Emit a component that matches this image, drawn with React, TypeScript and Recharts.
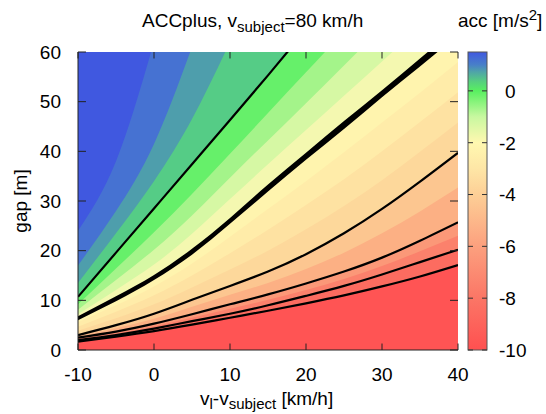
import {
  ComposedChart,
  Area,
  Bar,
  Line,
  XAxis,
  YAxis,
  CartesianGrid,
  ReferenceLine,
} from "recharts";

const FONT = '"Liberation Sans", Arial, sans-serif';

// relative speed v_l - v_subject [km/h]
const dv = [-10, -5, 0, 5, 10, 15, 20, 25, 30, 35, 40];
const xTicks = [-10, 0, 10, 20, 30, 40];
const yTicks = [0, 10, 20, 30, 40, 50, 60];
const cbTicks = [0, -2, -4, -6, -8, -10];

// gap [m] where acc reaches a given level
const gapP13 = [24, 38, 62, 88, 114, 140, 166, 192, 218, 244, 270];
const gapP07 = [17, 28, 41.5, 61, 82, 103, 124, 145, 166, 187, 208];
const gapP035 = [13.5, 23.5, 34, 46.5, 62, 78, 94, 110, 126, 142, 158];
const gap0 = [10.7, 19.6, 28.5, 37.4, 46.3, 55.3, 64.5, 74, 84, 94, 104];
const gapM05 = [9.2, 16.4, 23.7, 31.4, 39.5, 47.7, 55.9, 64.2, 72.9, 81.5, 90.1];
const gapM1 = [8.1, 14.1, 20.2, 27.1, 34.7, 42.2, 49.7, 57.3, 64.9, 72.6, 80.5];
const gapM15 = [7.2, 12.1, 17.2, 23.4, 30.4, 37.4, 44.3, 51.2, 58.1, 65.0, 71.7];
const gapM2 = [6.4, 10.3, 14.6, 19.8, 26.0, 32.6, 39.0, 45.3, 51.6, 57.9, 64.2];
const gapM25 = [5.6, 9.0, 12.8, 17.4, 22.8, 28.4, 34.0, 39.8, 45.8, 51.8, 58.0];
const gapM3 = [4.7, 7.7, 11.0, 15.0, 19.5, 24.2, 29.2, 34.4, 40.0, 45.9, 51.9];
const gapM35 = [3.9, 6.4, 9.2, 12.6, 16.2, 20.0, 24.3, 29.0, 34.2, 39.9, 45.8];
const gapM4 = [3.0, 5.0, 7.3, 10.1, 12.9, 15.8, 19.3, 23.5, 28.4, 33.9, 39.7];
const gapM5 = [2.8, 4.4, 6.3, 8.7, 11.1, 13.5, 16.3, 19.6, 23.5, 27.9, 32.7];
const gapM6 = [2.5, 3.7, 5.3, 7.2, 9.2, 11.2, 13.4, 15.8, 18.6, 22.0, 25.7];
const gapM7 = [2.3, 3.4, 4.8, 6.5, 8.3, 10.1, 12.1, 14.3, 16.9, 19.9, 23.0];
const gapM8 = [2.0, 3.0, 4.3, 5.8, 7.3, 9.0, 10.9, 12.9, 15.2, 17.7, 20.2];
const gapM9 = [1.7, 2.7, 3.8, 5.1, 6.5, 7.9, 9.4, 11.0, 12.8, 14.8, 17.1];

// the thick contour is drawn as a band
const thickLo = [6.0, 9.8, 14.1, 19.2, 25.4, 31.9, 38.3, 44.5, 50.9, 57.1, 63.4];
const thickHi = [6.8, 10.8, 15.1, 20.4, 26.6, 33.3, 39.7, 46.1, 52.3, 58.7, 65.0];

// colour bar
const cbMin = -10;
const cbMax = 1.5;
const cbLevels = [1.5, 1.0, 0.7, 0.35, 0, -1, -2, -3, -4, -6, -8, -10];
const cbColors = [
  "#4058e0", "#4880c8", "#50a8a4", "#56d07e", "#58f060", "#c8f8a0",
  "#fff8b0", "#fee6a6", "#fdcf96", "#fca07e", "#fb7666", "#ff5050",
];
const cbRange = [{ name: "acc", range: [cbMin, cbMax] }];

const data = dv.map((v, i) => ({
  v,
  p13: gapP13[i],
  p07: gapP07[i],
  p035: gapP035[i],
  g0: gap0[i],
  m05: gapM05[i],
  m1: gapM1[i],
  m15: gapM15[i],
  m2: gapM2[i],
  m25: gapM25[i],
  m3: gapM3[i],
  m35: gapM35[i],
  m4: gapM4[i],
  m5: gapM5[i],
  m6: gapM6[i],
  m7: gapM7[i],
  m8: gapM8[i],
  m9: gapM9[i],
  thick: [thickLo[i], thickHi[i]],
}));

// each band is painted from its upper isoline down to the bottom
const bands = [
  { key: "p13", fill: "#4672d2" },
  { key: "p07", fill: "#4e9eac" },
  { key: "p035", fill: "#55cc86" },
  { key: "g0", fill: "#66f06a" },
  { key: "m05", fill: "#a4f48a" },
  { key: "m1", fill: "#d6f8a4" },
  { key: "m15", fill: "#f4f8b0" },
  { key: "m2", fill: "#fff4ae" },
  { key: "m25", fill: "#ffeca9" },
  { key: "m3", fill: "#fee2a2" },
  { key: "m35", fill: "#fdd89b" },
  { key: "m4", fill: "#fcc690" },
  { key: "m5", fill: "#fcb084" },
  { key: "m6", fill: "#fb9878" },
  { key: "m7", fill: "#fb816c" },
  { key: "m8", fill: "#fc6c60" },
  { key: "m9", fill: "#ff5454" },
];

const contours = ["g0", "m4", "m6", "m8", "m9"];

const tickStyle = { fontSize: 19, fill: "#000", fontFamily: FONT };

function CbTick({ y, payload }: any) {
  const v = payload.value;
  return (
    <text x={v < 0 ? 499 : 505} y={y} dy="0.36em" textAnchor="start" {...tickStyle}>
      {String(v)}
    </text>
  );
}

// colour box plus its small inner tick marks, placed from the bar's own geometry
function CbShape({ x, y, width, height }: any) {
  return (
    <g>
      <rect x={x} y={y} width={width} height={height} fill="url(#cbGrad)" stroke="#555" />
      {cbTicks.map((t) => {
        const ty = y + ((cbMax - t) / (cbMax - cbMin)) * height;
        return (
          <g key={t} stroke="#333">
            <line x1={x} x2={x + 5} y1={ty} y2={ty} />
            <line x1={x + width - 5} x2={x + width} y1={ty} y2={ty} />
          </g>
        );
      })}
    </g>
  );
}

export default function App() {
  return (
    <div style={{ position: "absolute", left: 0, top: 0, width: 546, height: 414, background: "#fff" }}>
      <svg width={0} height={0} style={{ position: "absolute" }}>
        <defs>
          <linearGradient id="cbGrad" x1="0" y1="0" x2="0" y2="1">
            {cbLevels.map((l, i) => (
              <stop key={l} offset={(cbMax - l) / (cbMax - cbMin)} stopColor={cbColors[i]} />
            ))}
          </linearGradient>
        </defs>
      </svg>

      <div style={{ position: "absolute", left: 0, top: 0 }}>
        <ComposedChart width={546} height={414} data={data} margin={{ top: 52, right: 88, left: 38, bottom: 34 }}>
          <CartesianGrid fill="#4058e0" horizontal={false} vertical={false} />
          <XAxis
            dataKey="v"
            type="number"
            domain={[-10, 40]}
            ticks={xTicks}
            allowDataOverflow
            height={30}
            tickSize={0}
            tickMargin={18}
            tickLine={false}
            axisLine={{ stroke: "#222" }}
            tick={tickStyle}
          />
          <XAxis xAxisId="top" orientation="top" type="number" domain={[-10, 40]} height={0} tick={false} tickLine={false} axisLine={{ stroke: "#222" }} />
          <YAxis
            type="number"
            domain={[0, 60]}
            ticks={yTicks}
            allowDataOverflow
            width={40}
            tickSize={0}
            tickMargin={17}
            tickLine={false}
            axisLine={{ stroke: "#222" }}
            tick={tickStyle}
          />
          <YAxis yAxisId="right" orientation="right" type="number" domain={[0, 60]} width={0} tick={false} tickLine={false} axisLine={{ stroke: "#222" }} />

          {bands.map((b) => (
            <Area
              key={b.key}
              type="natural"
              dataKey={b.key}
              baseValue={0}
              fill={b.fill}
              fillOpacity={1}
              stroke="none"
              isAnimationActive={false}
            />
          ))}

          <Area type="natural" dataKey="thick" fill="#000" fillOpacity={1} stroke="none" isAnimationActive={false} />
          {contours.map((k) => (
            <Line key={k} type="natural" dataKey={k} stroke="#000" strokeWidth={2.2} dot={false} isAnimationActive={false} />
          ))}

          {xTicks.map((t) => (
            <ReferenceLine key={"xb" + t} segment={[{ x: t, y: 0 }, { x: t, y: 1.3 }]} stroke="#222" />
          ))}
          {xTicks.map((t) => (
            <ReferenceLine key={"xt" + t} segment={[{ x: t, y: 60 }, { x: t, y: 58.7 }]} stroke="#222" />
          ))}
          {yTicks.map((t) => (
            <ReferenceLine key={"yl" + t} segment={[{ x: -10, y: t }, { x: -8.95, y: t }]} stroke="#222" />
          ))}
          {yTicks.map((t) => (
            <ReferenceLine key={"yr" + t} segment={[{ x: 40, y: t }, { x: 38.95, y: t }]} stroke="#222" />
          ))}
        </ComposedChart>
      </div>

      <div style={{ position: "absolute", left: 0, top: 0 }}>
        <ComposedChart
          width={546}
          height={414}
          data={cbRange}
          margin={{ top: 52, right: 0, left: 468, bottom: 64 }}
          barCategoryGap={0}
        >
          <XAxis dataKey="name" type="category" hide />
          <YAxis
            orientation="right"
            type="number"
            domain={[cbMin, cbMax]}
            ticks={cbTicks}
            width={59}
            tickLine={false}
            axisLine={false}
            tick={<CbTick />}
          />
          <Bar dataKey="range" shape={<CbShape />} isAnimationActive={false} />
        </ComposedChart>
      </div>

      <svg width={546} height={414} style={{ position: "absolute", left: 0, top: 0, pointerEvents: "none" }} fontFamily={FONT} fill="#000">
        <text x={142} y={27} fontSize={19}>
          ACCplus, v<tspan dy={5} fontSize={15}>subject</tspan>
          <tspan dy={-5}>=80 km/h</tspan>
        </text>
        <text x={458} y={27} fontSize={19}>
          acc [m/s<tspan dy={-7} fontSize={15}>2</tspan>
          <tspan dy={7}>]</tspan>
        </text>
        <text x={200} y={405} fontSize={19}>
          v<tspan dy={4} fontSize={15}>l</tspan>
          <tspan dy={-4}>-v</tspan>
          <tspan dy={4} fontSize={15}>subject</tspan>
          <tspan dy={-4}> [km/h]</tspan>
        </text>
        <text x={27} y={201} fontSize={19} textAnchor="middle" transform="rotate(-90 27 201)">
          gap [m]
        </text>
      </svg>
    </div>
  );
}
